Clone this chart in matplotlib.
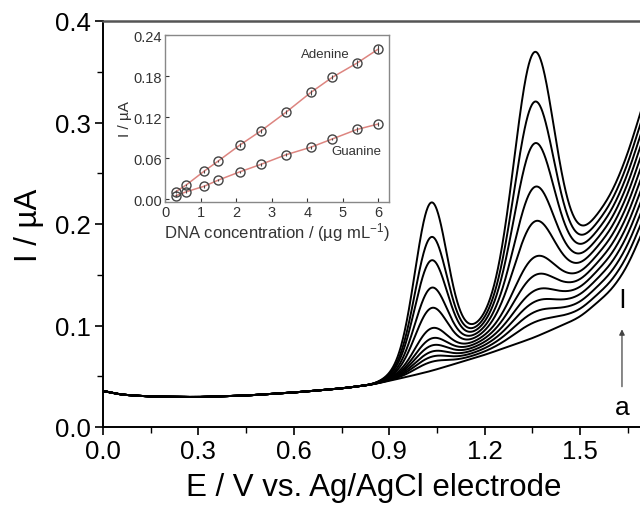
import numpy as np
import matplotlib
matplotlib.use("Agg")
import matplotlib.pyplot as plt

plt.rcParams['font.family'] = ['Liberation Sans', 'DejaVu Sans']
plt.rcParams['mathtext.fontset'] = 'custom'
plt.rcParams['mathtext.rm'] = 'Liberation Sans'
plt.rcParams['mathtext.it'] = 'Liberation Sans:italic'

# ---------------- data ----------------
# blank curve (a): potential / V and current / uA
base_E = [0.0, 0.05, 0.15, 0.30, 0.45, 0.60, 0.75, 0.85, 0.95, 1.03, 1.20, 1.355, 1.50, 1.60, 1.65, 1.70, 1.80]
base_I = [0.036, 0.032, 0.030, 0.0295, 0.031, 0.034, 0.038, 0.042, 0.049, 0.055, 0.071, 0.088, 0.108, 0.135, 0.158, 0.195, 0.27]
# extra background of the highest curve (l) above curve a
ramp_E = [0.0, 0.85, 0.95, 1.03, 1.186, 1.355, 1.516, 1.60, 1.70, 1.80]
ramp_I = [0.0, 0.0, 0.006, 0.012, 0.030, 0.052, 0.078, 0.095, 0.125, 0.150]
# peak potentials / V
guanine_E = 1.031
adenine_E = 1.355
# absolute peak currents of curves b..l (uA)
guanine_peak = [0.064, 0.069, 0.074, 0.080, 0.087, 0.097, 0.117, 0.137, 0.164, 0.187, 0.221]
adenine_peak = [0.103, 0.113, 0.123, 0.134, 0.149, 0.167, 0.202, 0.236, 0.279, 0.320, 0.369]

# inset calibration data
conc = [0.3, 0.6, 1.1, 1.5, 2.1, 2.7, 3.4, 4.1, 4.7, 5.4, 6.0]
adenine_I = [0.011, 0.021, 0.041, 0.056, 0.079, 0.100, 0.127, 0.156, 0.178, 0.199, 0.2195]
guanine_I = [0.005, 0.011, 0.019, 0.028, 0.040, 0.051, 0.065, 0.076, 0.088, 0.102, 0.110]
adenine_err = [0.002, 0.002, 0.002, 0.002, 0.003, 0.003, 0.003, 0.003, 0.003, 0.004, 0.006]
guanine_err = [0.002, 0.002, 0.002, 0.002, 0.002, 0.002, 0.002, 0.002, 0.002, 0.003, 0.003]

# ---------------- build curves ----------------
E = np.linspace(0, 1.8, 1801)

def smooth(y, sigma_pts=15):
    k = np.arange(-4 * sigma_pts, 4 * sigma_pts + 1)
    g = np.exp(-0.5 * (k / sigma_pts) ** 2)
    g /= g.sum()
    yp = np.pad(y, len(k) // 2, mode='edge')
    return np.convolve(yp, g, mode='valid')

a_curve = smooth(np.interp(E, base_E, base_I), 20)
ramp = smooth(np.interp(E, ramp_E, ramp_I), 20)
s1, s2 = 0.050, 0.062
G1 = np.exp(-0.5 * ((E - guanine_E) / s1) ** 2)
G2 = np.exp(-0.5 * ((E - adenine_E) / s2) ** 2)
a1 = np.interp(guanine_E, E, a_curve); r1 = np.interp(guanine_E, E, ramp)
a2 = np.interp(adenine_E, E, a_curve); r2 = np.interp(adenine_E, E, ramp)

curves = [a_curve]
n = len(guanine_peak)
for i in range(n):
    f = (i + 1) / n
    h1 = guanine_peak[i] - a1 - f * r1
    h2 = adenine_peak[i] - a2 - f * r2
    curves.append(a_curve + f * ramp + h1 * G1 + h2 * G2)

# ---------------- figure ----------------
W, H = 640, 506
fig = plt.figure(figsize=(W / 100, H / 100), dpi=100)
x0px, x_per = 103, 318.0
xmax = 1.7
ax_left = x0px / W
ax_w = xmax * x_per / W
ax_bottom = (H - 428) / H
ax_h = (428 - 22) / H
ax = fig.add_axes([ax_left, ax_bottom, ax_w, ax_h])
for c in curves:
    ax.plot(E, c, color='black', lw=1.4)
ax.set_xlim(0, xmax)
ax.set_ylim(0, 0.4)
ax.set_xticks([0.0, 0.3, 0.6, 0.9, 1.2, 1.5])
ax.set_xticks(np.arange(0.15, 1.7, 0.3), minor=True)
ax.set_yticks([0.0, 0.1, 0.2, 0.3, 0.4])
ax.set_yticks([0.05, 0.15, 0.25, 0.35], minor=True)
ax.xaxis.set_major_formatter(matplotlib.ticker.FormatStrFormatter('%.1f'))
ax.yaxis.set_major_formatter(matplotlib.ticker.FormatStrFormatter('%.1f'))
ax.tick_params(which='major', direction='out', length=6, width=1.2, labelsize=18.5, pad=3)
ax.tick_params(which='minor', direction='out', length=4, width=1.0)
for sp in ax.spines.values():
    sp.set_linewidth(1.4)
ax.spines['top'].set_color('#555555')
ax.spines['top'].set_linewidth(1.8)
ax.set_xlabel('E / V vs. Ag/AgCl electrode', fontsize=22.5, labelpad=6)
ax.set_ylabel('I / µA', fontsize=22.5, labelpad=8)

ax.text(1.632, 0.125, 'l', fontsize=19, ha='center', va='center')
ax.text(1.632, 0.020, 'a', fontsize=19, ha='center', va='center')
ax.annotate('', xy=(1.632, 0.099), xytext=(1.632, 0.037),
            arrowprops=dict(arrowstyle='-|>', color='#444444', lw=0.9, mutation_scale=8))

# inset
ins = fig.add_axes([165 / W, 1 - 203 / H, (389 - 165) / W, (203 - 36) / H])
red = '#dd8580'
ins.plot(conc, adenine_I, color=red, lw=1.1, zorder=1)
ins.plot(conc, guanine_I, color=red, lw=1.1, zorder=1)
ins.errorbar(conc, adenine_I, yerr=adenine_err, fmt='o', ms=6.5, mfc='none', mec='#444444',
             mew=1.0, ecolor='#444444', elinewidth=0.8, capsize=0, zorder=2)
ins.errorbar(conc, guanine_I, yerr=guanine_err, fmt='o', ms=6.5, mfc='none', mec='#444444',
             mew=1.0, ecolor='#444444', elinewidth=0.8, capsize=0, zorder=2)
ins.set_xlim(0, 6.3)
ins.set_ylim(-0.004, 0.24)
ins.set_xticks([0, 1, 2, 3, 4, 5, 6])
ins.set_yticks([0.0, 0.06, 0.12, 0.18, 0.24])
ins.yaxis.set_major_formatter(matplotlib.ticker.FormatStrFormatter('%.2f'))
ins.tick_params(direction='in', length=3, width=0.8, labelsize=10.5, colors='#333333', pad=2)
for sp in ins.spines.values():
    sp.set_color('#888888')
    sp.set_linewidth(1.0)
ins.set_xlabel('DNA concentration / (µg mL$^{-1}$)', fontsize=12, color='#333333', labelpad=1)
ins.set_ylabel('I / µA', fontsize=11, color='#333333', labelpad=1)
ins.text(4.5, 0.212, 'Adenine', fontsize=9.5, color='#333333', ha='center', va='center')
ins.text(5.38, 0.071, 'Guanine', fontsize=9.5, color='#333333', ha='center', va='center')

fig.savefig('out.png', dpi=100)
